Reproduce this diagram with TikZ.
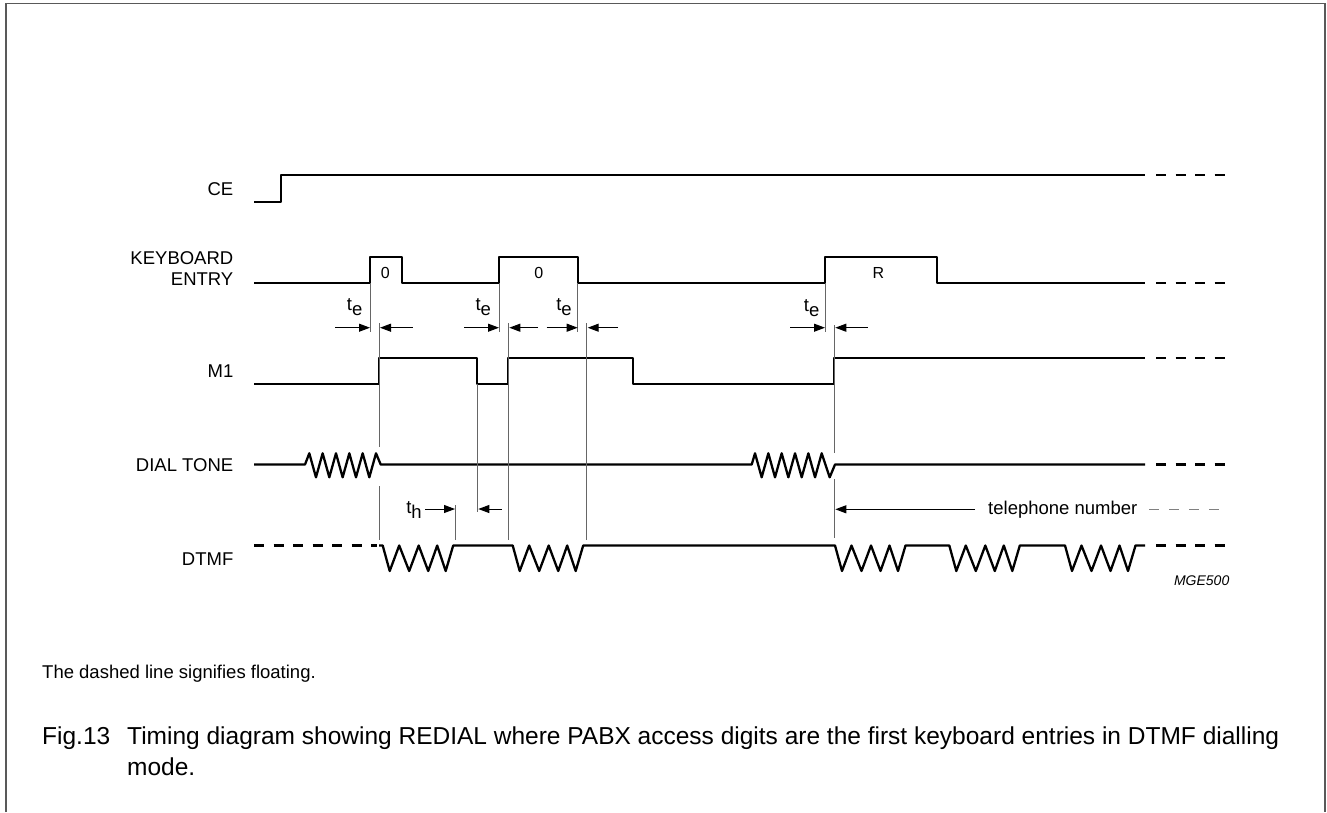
\documentclass[tikz,border=0pt]{standalone}
\usepackage{fontspec}
\setmainfont{Liberation Sans}
\usetikzlibrary{arrows.meta}
\begin{document}
\begin{tikzpicture}[x=1pt,y=-1pt,
  sig/.style={line width=2.3pt, line join=round},
  flt/.style={line width=2.3pt, dash pattern=on 10pt off 9.5pt},
  thinln/.style={line width=1pt, black!60},
  dimarrow/.style={line width=1pt, -{Triangle[length=11pt,width=8pt]}},
  lbl/.style={font=\fontsize{18.5}{22}\selectfont, inner sep=0pt},
  plbl/.style={font=\fontsize{16}{19}\selectfont, inner sep=0pt},
  dtmftone/.style={insert path={-- ++(7,25.5) -- ++(9.5,-25.5) -- ++(10,25.5) -- ++(9.5,-25.5) -- ++(9.5,25.5) -- ++(9,-25.5) -- ++(8.5,25.5) -- ++(7.5,-25.5)}}
]
\useasboundingbox (0,0) rectangle (1327,812);
% frame
\draw[line width=1.6pt, black!65] (6,812) -- (6,3.5) -- (1325,3.5) -- (1325,812);

% signal labels
\node[lbl, anchor=east] (ce) at (233.5,189) {CE};
\node[lbl, anchor=east] (kb1) at (233.5,258.6) {KEYBOARD};
\node[lbl, anchor=east] (kb2) at (233.5,279) {ENTRY};
\node[lbl, anchor=east] (m1) at (233.5,371.5) {M1};
\node[lbl, anchor=east] (dialt) at (233.5,465) {DIAL TONE};
\node[lbl, anchor=east] (dtmf) at (233.5,559.5) {DTMF};

% CE
\draw[sig] (254,201.7) -- (280.7,201.7) -- (280.7,175) -- (1145,175);
\draw[flt] (1156,175) -- (1227,175);

% KEYBOARD ENTRY
\draw[sig] (254,283.3) -- (370,283.3) -- (370,256.7) -- (401.7,256.7) -- (401.7,283.3)
  -- (499,283.3) -- (499,256.7) -- (577.7,256.7) -- (577.7,283.3)
  -- (825,283.3) -- (825,256.7) -- (936.7,256.7) -- (936.7,283.3) -- (1145,283.3);
\draw[flt] (1156,283.3) -- (1227,283.3);
\node[plbl] (k0a) at (385.3,272.8) {0};
\node[plbl] (k0b) at (538.7,272.8) {0};
\node[plbl] (kR) at (878.3,272.5) {R};

% M1
\draw[sig] (254,384.3) -- (379,384.3) -- (379,358.3) -- (477.3,358.3) -- (477.3,384.3)
  -- (508.3,384.3) -- (508.3,358.3) -- (633,358.3) -- (633,384.3)
  -- (834.3,384.3) -- (834.3,358.3) -- (1145,358.3);
\draw[flt] (1156,358.3) -- (1227,358.3);

% DIAL TONE
\draw[sig] (254,464.5) -- (305,464.5) -- (309.3,453.3)
  \foreach \i in {1,...,5} { -- ++(6.67,24) -- ++(6.67,-24) }
  -- (380.7,464.5) -- (751.7,464.5) -- (755,453.3)
  \foreach \i in {1,...,5} { -- ++(6.67,24) -- ++(6.67,-24) }
  -- ++(8,24) -- (835,464.5) -- (1145,464.5);
\draw[flt] (1156,464.5) -- (1227,464.5);

% DTMF
\draw[flt] (254,545.5) -- (377,545.5);
\draw[sig] (379,545.5) -- (382.7,545.5) [dtmftone] -- (512.7,545.5) [dtmftone]
  -- (835,545.5) [dtmftone] -- (949.3,545.5) [dtmftone] -- (1065,545.5) [dtmftone] -- (1145,545.5);
\draw[flt] (1156,545.5) -- (1227,545.5);

% timing reference lines
\draw[thinln] (370,283.3) -- (370,332);
\draw[thinln] (379,323) -- (379,447);
\draw[thinln] (379,486) -- (379,540);
\draw[thinln] (499,283.3) -- (499,332);
\draw[thinln] (508.3,323) -- (508.3,540);
\draw[thinln] (577.7,283.3) -- (577.7,332);
\draw[thinln] (586.7,323) -- (586.7,540);
\draw[thinln] (477.3,384.3) -- (477.3,512);
\draw[thinln] (455,505) -- (455,540);
\draw[thinln] (825,283.3) -- (825,332);
\draw[thinln] (834.3,325) -- (834.3,453);
\draw[thinln] (834.3,479) -- (834.3,538);

% te arrows
\coordinate (a1l) at (335,327.7);   \coordinate (a1r) at (370,327.7);
\coordinate (b1l) at (412.7,327.7); \coordinate (b1r) at (380,327.7);
\coordinate (a2l) at (464,327.7);   \coordinate (a2r) at (499,327.7);
\coordinate (b2l) at (538,327.7);   \coordinate (b2r) at (509.3,327.7);
\coordinate (a3l) at (546.7,327.7); \coordinate (a3r) at (577.7,327.7);
\coordinate (b3l) at (618,327.7);   \coordinate (b3r) at (587.7,327.7);
\coordinate (a4l) at (790,327.7);   \coordinate (a4r) at (825,327.7);
\coordinate (b4l) at (867.7,327.7); \coordinate (b4r) at (835.3,327.7);
\draw[dimarrow] (a1l) -- (a1r);
\draw[dimarrow] (b1l) -- (b1r);
\draw[dimarrow] (a2l) -- (a2r);
\draw[dimarrow] (b2l) -- (b2r);
\draw[dimarrow] (a3l) -- (a3r);
\draw[dimarrow] (b3l) -- (b3r);
\draw[dimarrow] (a4l) -- (a4r);
\draw[dimarrow] (b4l) -- (b4r);
\node[lbl] (te1) at (354.7,307.5) {t\raisebox{-5pt}{e}};
\node[lbl] (te2) at (483.3,307.5) {t\raisebox{-5pt}{e}};
\node[lbl] (te3) at (564,307.5) {t\raisebox{-5pt}{e}};
\node[lbl] (te4) at (811.7,308) {t\raisebox{-5pt}{e}};

% th arrows
\coordinate (h1l) at (425,509);   \coordinate (h1r) at (455,509);
\coordinate (h2l) at (501.7,509); \coordinate (h2r) at (478.3,509);
\draw[dimarrow] (h1l) -- (h1r);
\draw[dimarrow] (h2l) -- (h2r);
\node[lbl] (th) at (414,510) {t\raisebox{-5pt}{h}};

% telephone number
\coordinate (tnl) at (975,509.3); \coordinate (tnr) at (835.3,509.3);
\draw[dimarrow] (tnl) -- (tnr);
\node[lbl, anchor=base west] (tel) at (988,514) {telephone number};
\draw[line width=1pt, black!50, dash pattern=on 10pt off 10pt] (1149,509.3) -- (1228,509.3);

\node[font=\fontsize{14}{16}\selectfont\itshape, inner sep=0pt, anchor=base east] (mge) at (1229.5,585) {MGE500};

% notes and caption
\node[lbl, anchor=base west] (note) at (42,678) {The dashed line signifies floating.};
\node[font=\fontsize{24.5}{30}\selectfont, inner sep=0pt, anchor=base west] (fig) at (42,744) {Fig.13};
\node[font=\fontsize{24.5}{30}\selectfont, inner sep=0pt, anchor=base west] (cap1) at (127,744) {Timing diagram showing REDIAL where PABX access digits are the first keyboard entries in DTMF dialling};
\node[font=\fontsize{24.5}{30}\selectfont, inner sep=0pt, anchor=base west] (cap2) at (127,775) {mode.};
\end{tikzpicture}
\end{document}
